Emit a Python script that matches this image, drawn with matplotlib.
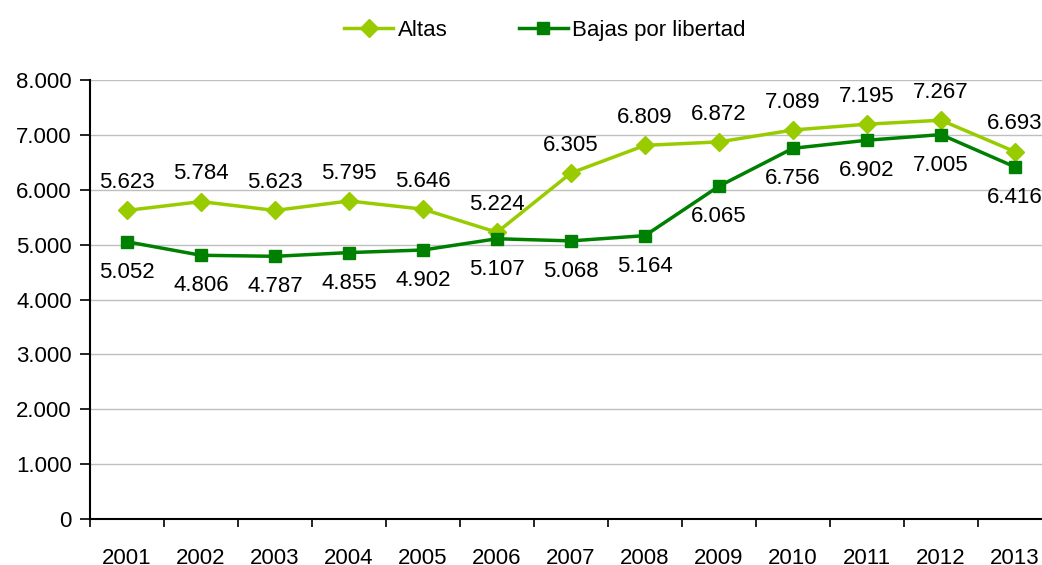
import numpy as np
import matplotlib
matplotlib.use("Agg")
import matplotlib.pyplot as plt
from matplotlib.ticker import FuncFormatter

years = ["2001", "2002", "2003", "2004", "2005", "2006", "2007",
         "2008", "2009", "2010", "2011", "2012", "2013"]
altas = [5623, 5784, 5623, 5795, 5646, 5224, 6305, 6809, 6872, 7089, 7195, 7267, 6693]
bajas = [5052, 4806, 4787, 4855, 4902, 5107, 5068, 5164, 6065, 6756, 6902, 7005, 6416]

c_altas = "#99CC00"
c_bajas = "#008000"

plt.rcParams['font.family'] = ['Liberation Sans', 'DejaVu Sans']
fs = 16

def miles(v, pos=None):
    return "{:,.0f}".format(v).replace(",", ".")

fig = plt.figure(figsize=(10.42, 5.65), dpi=100)
ax = fig.add_axes([90/1042, 46/565, 962/1042, 439/565])

x = np.arange(len(years))
ax.plot(x, altas, color=c_altas, lw=2.5, marker="D", ms=9.5, label="Altas", zorder=3)
ax.plot(x, bajas, color=c_bajas, lw=2.5, marker="s", ms=9, label="Bajas por libertad", zorder=3)

for i in range(len(years)):
    ax.annotate(miles(altas[i]), (x[i], altas[i]), xytext=(0, 20), textcoords="offset points",
                ha="center", va="center", fontsize=fs)
    ax.annotate(miles(bajas[i]), (x[i], bajas[i]), xytext=(0, -22), textcoords="offset points",
                ha="center", va="center", fontsize=fs)

ax.set_xlim(-0.5, len(years) - 0.5)
ax.set_ylim(0, 8000)
ax.set_yticks(np.arange(0, 8001, 1000))
ax.yaxis.set_major_formatter(FuncFormatter(miles))
ax.grid(axis="y", color="#BFBFBF", lw=1)
ax.set_axisbelow(True)

ax.set_xticks(x)
ax.set_xticklabels(years)
ax.set_xticks(np.arange(-0.5, len(years), 1), minor=True)
ax.tick_params(axis="x", which="major", length=0, pad=21, labelsize=fs)
ax.tick_params(axis="x", which="minor", length=6, width=1.2, direction="out")
ax.tick_params(axis="y", length=7, width=1.2, direction="out", labelsize=fs, pad=6)

for s in ["top", "right"]:
    ax.spines[s].set_visible(False)
ax.spines["left"].set_linewidth(1.5)
ax.spines["bottom"].set_linewidth(1.5)

fig.legend(loc="upper center", bbox_to_anchor=(0.523, 1.0), ncol=2, frameon=False,
           fontsize=fs, handlelength=2.2, handletextpad=0.2, columnspacing=3.2)

fig.savefig("out.png", dpi=100)
